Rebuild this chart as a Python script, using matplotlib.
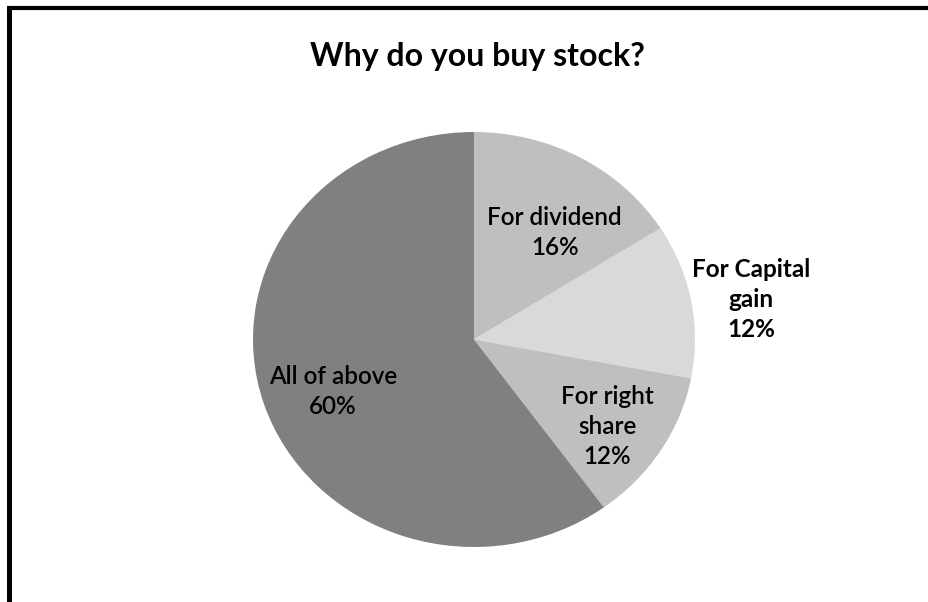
import numpy as np
import matplotlib
matplotlib.use("Agg")
import matplotlib.pyplot as plt
from matplotlib.lines import Line2D

# Survey answers, clockwise from 12 o'clock
reasons = ["For dividend", "For Capital\ngain", "For right\nshare", "All of above"]
shares = [16, 12, 12, 60]
shades = ["#bfbfbf", "#d9d9d9", "#bfbfbf", "#808080"]

plt.rcParams['font.family'] = ['Lato', 'DejaVu Sans']

fig = plt.figure(figsize=(9.29, 6.02), dpi=100)
W, H = 929, 602

# frame drawn on the left and top edges only
fig.add_artist(Line2D([9.5 / W, 9.5 / W], [0, 1 - 8 / H], color="black", lw=3.6,
                      solid_capstyle="butt", transform=fig.transFigure))
fig.add_artist(Line2D([7 / W, 1], [1 - 8 / H, 1 - 8 / H], color="black", lw=3.0,
                      solid_capstyle="butt", transform=fig.transFigure))

fig.text(477 / W, 1 - 66 / H, "Why do you buy stock?", ha="center", va="baseline",
         fontsize=23, fontweight="bold")

# pie area (slightly squashed vertically)
ax = fig.add_axes([253 / W, (H - 547) / H, 442 / W, 415 / H])
wedges, _ = ax.pie(shares, colors=shades, startangle=90, counterclock=False,
                   radius=1.0, wedgeprops=dict(linewidth=0))
ax.set_aspect("auto")
ax.set_xlim(-1, 1)
ax.set_ylim(-1, 1)
ax.axis("off")

# label placement in pie units
label_xy = [(0.365, 0.516), (1.253, 0.193), (0.602, -0.419), (-0.638, -0.25)]
label_weight = ["semibold", "bold", "semibold", "semibold"]
for name, val, (lx, ly), wt in zip(reasons, shares, label_xy, label_weight):
    ax.text(lx, ly, f"{name}\n{val}%", ha="center", va="center", fontsize=17.5,
            fontweight=wt, linespacing=1.38, color="black", clip_on=False)

fig.savefig("out.png", dpi=100)
